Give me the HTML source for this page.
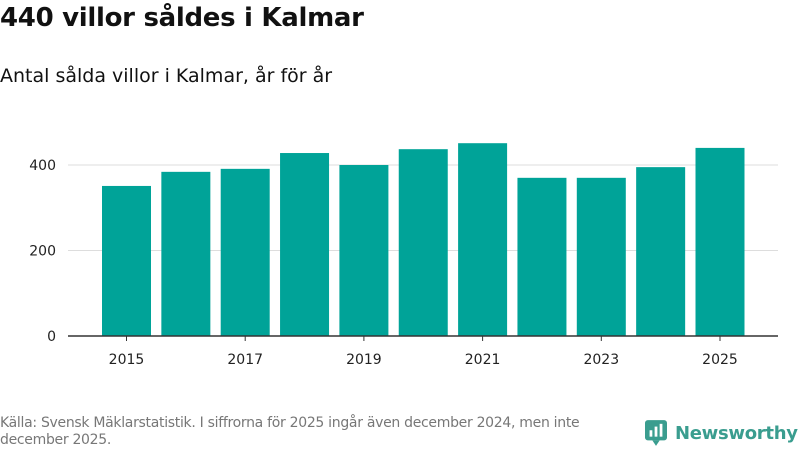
<!DOCTYPE html>
<html><head><meta charset="utf-8"><style>
body{margin:0;width:800px;height:450px;background:#fff;font-family:"DejaVu Sans","Liberation Sans",sans-serif;overflow:hidden;position:relative}
#t{position:absolute;left:0;top:3px;font-size:26px;font-weight:bold;color:#111;letter-spacing:-0.3px}
#s{position:absolute;left:0;top:65px;font-size:19px;color:#111}
#f{position:absolute;left:0;top:415px;font-size:14px;color:#777;width:630px;line-height:17px;letter-spacing:-0.3px}
#logo{position:absolute;left:645px;top:420px;display:flex;align-items:center;color:#3a9d8f;font-weight:bold;font-size:18px;letter-spacing:-0.3px}
</style></head><body>
<div id="t">440 villor såldes i Kalmar</div>
<div id="s">Antal sålda villor i Kalmar, år för år</div>
<svg id="c" width="800" height="450" style="position:absolute;left:0;top:0"></svg>
<div id="f">Källa: Svensk Mäklarstatistik. I siffrorna för 2025 ingår även december 2024, men inte december 2025.</div>
<div id="logo"><svg width="22" height="26" viewBox="0 0 24 28"><rect x="0" y="0" width="24" height="22" rx="3" fill="#3a9d8f"/><polygon points="8,22 16,22 12,28" fill="#3a9d8f"/><rect x="5" y="11" width="3" height="7" fill="#fff"/><rect x="10.5" y="7" width="3" height="11" fill="#fff"/><rect x="16" y="4" width="3" height="14" fill="#fff"/></svg><span style="margin-left:8px">Newsworthy</span></div>
<script>
const years=[2015,2016,2017,2018,2019,2020,2021,2022,2023,2024,2025];
const values=[351,384,391,428,400,437,451,370,370,395,440];
const yTicks=[0,200,400];
const xTickLabels=[2015,2017,2019,2021,2023,2025];
const svg=document.getElementById('c');
const NS='http://www.w3.org/2000/svg';
const y0=336,pxPer=171/400;
const yScale=v=>y0-v*pxPer;
const xCenter=yr=>126.5+(yr-2015)*59.35;
const bw=49;
function mk(t,a){const e=document.createElementNS(NS,t);for(const k in a)e.setAttribute(k,a[k]);svg.appendChild(e);return e;}
yTicks.forEach(v=>{
 if(v>0){const g=mk('line',{x1:68,x2:778,y1:yScale(v),y2:yScale(v),stroke:'#ddd','stroke-width':1});
 
 }
 const t=mk('text',{x:56,y:yScale(v)+5,'text-anchor':'end','font-size':14,fill:'#222'});t.textContent=v;
 
 
});
years.forEach((yr,i)=>{
 const r=mk('rect',{x:xCenter(yr)-bw/2,y:yScale(values[i]),width:bw,height:y0-yScale(values[i]),fill:'#00a398'});
 
 
});
const ax=mk('line',{x1:68,x2:778,y1:y0,y2:y0,stroke:'#333','stroke-width':1.5});


xTickLabels.forEach(yr=>{
 const tk=mk('line',{x1:xCenter(yr),x2:xCenter(yr),y1:y0,y2:y0+5,stroke:'#333'});
 
 
 const t=mk('text',{x:xCenter(yr),y:364,'text-anchor':'middle','font-size':14,fill:'#222'});t.textContent=yr;
 
 
});
</script>
</body></html>
